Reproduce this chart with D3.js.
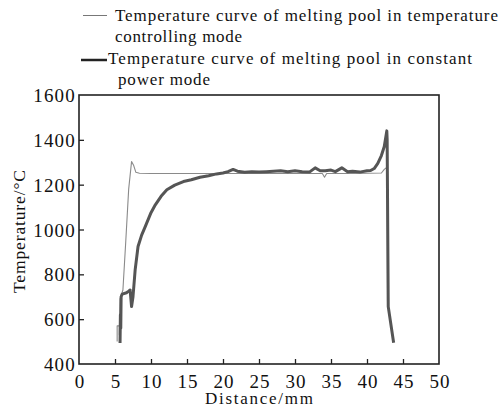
<!DOCTYPE html>
<html>
<head>
<meta charset="utf-8">
<script src="https://cdn.jsdelivr.net/npm/d3@7"></script>
<style>
  html, body { margin: 0; padding: 0; background: #fff; }
  svg { display: block; }
  text { font-family: "Liberation Serif", "Times New Roman", serif; fill: #111; }
</style>
</head>
<body>
<script>
// ---------- data ----------
const seriesNames = [
  ["Temperature curve of melting pool in temperature", "controlling mode"],
  ["Temperature curve of melting pool in constant", "power mode"]
];
// temperature controlling mode (thin line)
const ctrlX = [5.3, 5.3, 5.6, 5.6, 5.7, 6.1, 6.5, 6.9, 7.3, 7.6, 7.9, 8.4, 10, 15, 20, 25, 30, 33.8, 34.1, 34.4, 38, 42, 42.4, 42.7, 42.8, 42.85];
const ctrlT = [500, 570, 570, 530, 690, 730, 950, 1180, 1303, 1285, 1255, 1251, 1250, 1250, 1250, 1250, 1250, 1250, 1233, 1250, 1250, 1252, 1268, 1276, 1270, 680];
// constant power mode (thick line)
const constX = [5.7, 5.75, 5.8, 5.85, 6.0, 6.6, 6.9, 7.1, 7.3, 7.5, 7.8, 8.2, 8.7, 9.2, 10.0, 10.6, 11.4, 12.2, 13.3, 14.5, 15.6, 16.8, 18.0, 19.1, 20.0, 20.7, 21.4, 22.0, 23, 24, 25, 26, 27, 28, 29, 30, 31, 32, 32.8, 33.5, 34.2, 35, 35.6, 36.5, 37.3, 38, 39, 40, 40.5, 41.0, 41.5, 42.0, 42.4, 42.75, 42.8, 42.95, 43.7];
const constT = [494, 620, 560, 700, 712, 718, 725, 730, 656, 700, 820, 924, 975, 1013, 1075, 1110, 1148, 1177, 1198, 1214, 1222, 1233, 1240, 1248, 1252, 1258, 1268, 1260, 1255, 1258, 1256, 1258, 1260, 1262, 1258, 1262, 1258, 1256, 1275, 1262, 1262, 1265, 1258, 1275, 1258, 1260, 1256, 1262, 1263, 1272, 1295, 1330, 1370, 1440, 1400, 656, 495];
const xTicks = [0, 5, 10, 15, 20, 25, 30, 35, 40, 45, 50];
const yTicks = [400, 600, 800, 1000, 1200, 1400, 1600];
const xTitle = "Distance/mm";
const yTitle = "Temperature/\u00B0C";

// ---------- layout ----------
const W = 500, H = 408;
const plot = { left: 79, right: 439, top: 95, bottom: 364 };

const svg = d3.select("body").append("svg").attr("width", W).attr("height", H);

const x = d3.scaleLinear().domain([0, 50]).range([plot.left, plot.right]);
const y = d3.scaleLinear().domain([400, 1600]).range([plot.bottom, plot.top]);

// axes (inward ticks)
const xAxis = d3.axisBottom(x).tickValues(xTicks).tickSize(-5).tickPadding(13).tickFormat(d3.format("d"));
const yAxis = d3.axisLeft(y).tickValues(yTicks).tickSize(-5).tickPadding(3).tickFormat(d3.format("d"));

const gx = svg.append("g").attr("transform", `translate(0,${plot.bottom})`).call(xAxis);
const gy = svg.append("g").attr("transform", `translate(${plot.left},0)`).call(yAxis);
[gx, gy].forEach(g => {
  g.attr("font-family", null);
  g.select(".domain").remove();
  g.selectAll(".tick line").attr("stroke", "#222").attr("stroke-width", 1.3);
  g.selectAll(".tick text")
    .style("font-family", "'Liberation Serif', serif")
    .attr("font-size", 19).attr("fill", "#111")
    .style("letter-spacing", "1.2px");
});
gx.selectAll(".tick").filter(d => d === 0 || d === 50).select("line").remove();
gy.selectAll(".tick").filter(d => d === 400 || d === 1600).select("line").remove();
gx.selectAll(".tick text").attr("dy", "0.6em").attr("dx", "0.6px");
gy.selectAll(".tick text").attr("dy", "0.35em");

// frame
svg.append("rect")
  .attr("x", plot.left).attr("y", plot.top)
  .attr("width", plot.right - plot.left).attr("height", plot.bottom - plot.top)
  .attr("fill", "none").attr("stroke", "#222").attr("stroke-width", 1.6);

// lines
const lineGen = d3.line().x(d => x(d[0])).y(d => y(d[1]));
svg.append("path")
  .datum(ctrlX.map((v, i) => [v, ctrlT[i]]))
  .attr("d", lineGen).attr("fill", "none")
  .attr("stroke", "#8a8a8a").attr("stroke-width", 1.1).attr("stroke-linejoin", "round");
svg.append("path")
  .datum(constX.map((v, i) => [v, constT[i]]))
  .attr("d", lineGen).attr("fill", "none")
  .attr("stroke", "#555").attr("stroke-width", 3).attr("stroke-linejoin", "round");

// axis titles
svg.append("text").attr("x", 205).attr("y", 404)
  .attr("font-size", 17).attr("textLength", 108).attr("lengthAdjust", "spacing").text(xTitle);
svg.append("text").attr("transform", "translate(25,293) rotate(-90)")
  .attr("font-size", 17.5).attr("textLength", 123).attr("lengthAdjust", "spacing").text(yTitle);

// legend
svg.append("line").attr("x1", 83).attr("x2", 107).attr("y1", 15.5).attr("y2", 15.5)
  .attr("stroke", "#777").attr("stroke-width", 1);
svg.append("line").attr("x1", 81).attr("x2", 107).attr("y1", 60).attr("y2", 60)
  .attr("stroke", "#222").attr("stroke-width", 2.5);
const lg = svg.append("g").attr("font-size", 17);
lg.append("text").attr("x", 115).attr("y", 20.5).attr("textLength", 383).attr("lengthAdjust", "spacing").text(seriesNames[0][0]);
lg.append("text").attr("x", 115).attr("y", 42).attr("textLength", 127).attr("lengthAdjust", "spacing").text(seriesNames[0][1]);
lg.append("text").attr("x", 108).attr("y", 63.5).attr("textLength", 364).attr("lengthAdjust", "spacing").text(seriesNames[1][0]);
lg.append("text").attr("x", 118).attr("y", 85).attr("textLength", 92).attr("lengthAdjust", "spacing").text(seriesNames[1][1]);
</script>
</body>
</html>
